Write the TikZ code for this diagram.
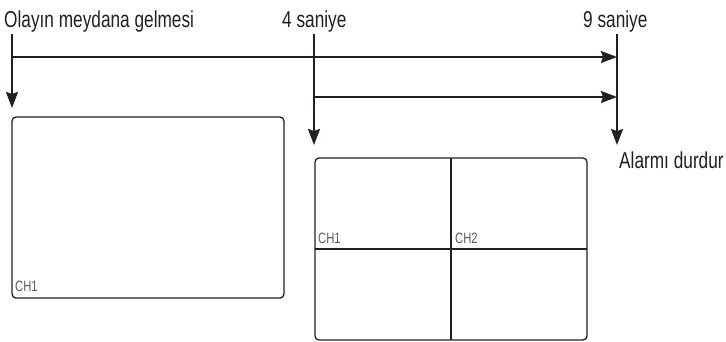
\documentclass[tikz,border=0pt]{standalone}
\usepackage{fontspec}
\setmainfont[FakeStretch=0.75]{Liberation Sans}
\usetikzlibrary{arrows.meta,positioning}

\definecolor{ink}{HTML}{231F20}
\definecolor{chgray}{HTML}{5A5A5A}

\tikzset{
  timelabel/.style={inner sep=0pt, anchor=base west, text=ink, font=\fontsize{23}{25}\selectfont},
  chlabel/.style={inner sep=0pt, anchor=base west, text=chgray, font=\fontsize{15}{17}\selectfont},
  timeline/.style={draw=ink, line width=1.8pt, -{Stealth[length=16pt,width=12pt,inset=2pt]}},
  screen/.style={draw=ink, line width=1.3pt, rounded corners=4pt},
  split/.style={draw=ink, line width=1.3pt}
}

\begin{document}
\begin{tikzpicture}[x=1pt,y=-1pt]

\useasboundingbox (0,0) rectangle (726,341);

% ============================
% TIME LABELS
% ============================
\node[timelabel] (event) at (4,27) {Olayın meydana gelmesi};
\node[timelabel] (sec4) at (282,27) {4 saniye};
\node[timelabel] (sec9) at (583,27) {9 saniye};
\node[timelabel] (stop) at (619,168) {Alarmı durdur};

% ============================
% ARROWS
% ============================
\coordinate (e0) at (12,34);
\coordinate (e1) at (12,108);
\coordinate (f0) at (314,34);
\coordinate (f1) at (314,145);
\coordinate (n0) at (617,34);
\coordinate (n1) at (617,145);

% Vertical drops
\draw[timeline] (e0) -- (e1);
\draw[timeline] (f0) -- (f1);
\draw[timeline] (n0) -- (n1);

% Horizontal spans
\coordinate (h1s) at (12,57);
\coordinate (h1e) at (617,57);
\coordinate (h2s) at (314,97);
\coordinate (h2e) at (617,97);
\draw[timeline] (h1s) -- (h1e);
\draw[timeline] (h2s) -- (h2e);

% ============================
% LEFT SCREEN — SINGLE VIEW
% ============================
\draw[screen] (12,117) rectangle (284,298);
\node[chlabel] (ch1a) at (15,291) {CH1};

% ============================
% RIGHT SCREEN — QUAD VIEW
% ============================
\draw[screen] (315,158) rectangle (587,340);
\draw[split] (451,158) -- (451,340);
\draw[split] (315,249) -- (587,249);
\node[chlabel] (ch1b) at (318,243) {CH1};
\node[chlabel] (ch2b) at (455,243) {CH2};

\end{tikzpicture}
\end{document}
